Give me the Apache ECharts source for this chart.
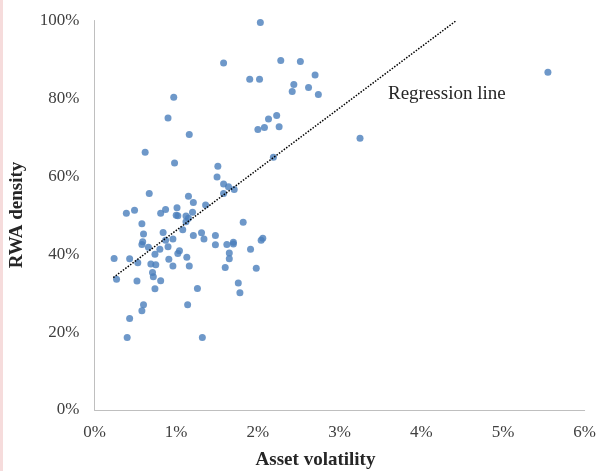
<!DOCTYPE html>
<html>
<head>
<meta charset="utf-8">
<script src="https://cdn.jsdelivr.net/npm/echarts@6/dist/echarts.min.js"></script>
<style>
html,body{margin:0;padding:0;background:#fff;}
#chart{width:599px;height:471px;}
</style>
</head>
<body>
<div id="chart"></div>
<script>
// Asset volatility (%) and RWA density (%) per bank
var assetVolatility = [
  2.03,1.58,2.28,2.52,1.90,2.02,2.70,2.44,2.42,2.62,2.74,2.23,2.13,2.00,2.08,2.26,3.25,2.19,5.55,
  0.97,0.90,1.16,0.62,
  0.98,1.51,1.50,1.58,1.64,1.71,1.58,0.67,1.15,1.21,1.36,1.01,0.87,0.81,1.20,0.39,0.49,1.00,1.02,
  1.12,1.15,1.12,0.58,1.82,1.08,0.84,0.60,1.31,1.21,1.48,1.34,0.96,0.87,0.59,0.58,2.06,2.04,1.70,
  1.70,1.62,1.48,0.90,0.66,0.80,1.04,1.02,0.74,1.65,1.91,1.65,0.24,0.43,0.53,0.91,1.13,0.69,0.75,
  0.96,1.16,1.60,1.98,0.71,0.72,0.81,0.27,0.52,
  0.74,1.26,1.76,1.78,0.60,0.58,1.14,0.43,0.40,1.32
];
var rwaDensity = [
  99.5,89.1,89.7,89.5,84.9,84.9,86.0,83.6,81.8,82.8,81.0,75.6,74.7,72.0,72.5,72.7,69.8,64.9,86.7,
  80.3,75.0,70.7,66.2,
  63.4,62.6,59.8,58.0,57.3,56.6,55.6,55.6,54.9,53.3,52.6,51.9,51.5,50.5,50.8,50.5,51.3,50.0,49.9,
  49.8,49.2,48.3,47.8,48.2,46.3,45.6,45.2,45.5,44.8,44.8,43.9,43.9,43.6,43.2,42.5,44.1,43.6,43.1,
  42.6,42.5,42.4,41.9,41.8,41.3,40.9,40.2,40.0,40.3,41.3,38.8,38.9,38.8,37.8,38.7,39.2,37.5,37.3,
  37.0,37.0,36.6,36.4,35.3,34.2,33.2,33.6,33.1,
  31.1,31.2,32.6,30.1,27.0,25.5,27.0,23.5,18.6,18.6
];
// regression line end points
var regressionX = [0.23, 4.43];
var regressionY = [34, 100];
var regressionLabel = 'Regression line';
var xTitle = 'Asset volatility';
var yTitle = 'RWA density';

var points = assetVolatility.map(function(v, i){ return [v, rwaDensity[i]]; });
var regLine = regressionX.map(function(v, i){ return [v, regressionY[i]]; });

var serif = '"Liberation Serif", "DejaVu Serif", serif';
var chart = echarts.init(document.getElementById('chart'), null, {renderer:'canvas'});
chart.setOption({
  animation: false,
  backgroundColor: '#ffffff',
  grid: {left: 94.5, right: 14, top: 20.5, bottom: 61, containLabel: false},
  xAxis: {
    type: 'value', min: 0, max: 6, interval: 1,
    axisLine: {show: true, lineStyle: {color: '#bfbfbf', width: 1}},
    axisTick: {show: false},
    splitLine: {show: false},
    axisLabel: {formatter: '{value}%', color: '#404040', fontFamily: serif, fontSize: 17, margin: 14}
  },
  yAxis: {
    type: 'value', min: 0, max: 100, interval: 20,
    axisLine: {show: true, lineStyle: {color: '#bfbfbf', width: 1}},
    axisTick: {show: false},
    splitLine: {show: false},
    axisLabel: {formatter: '{value}%', color: '#404040', fontFamily: serif, fontSize: 17, margin: 15}
  },
  series: [
    {
      type: 'scatter', data: points, symbol: 'circle', symbolSize: 7,
      itemStyle: {color: '#4a7ebb'}, z: 2
    },
    {
      type: 'line', data: regLine, symbol: 'none', silent: true,
      lineStyle: {color: '#000000', width: 1.5, type: [1.5, 1.5]}, z: 3
    }
  ],
  graphic: [
    {type: 'rect', left: 0, top: 0, shape: {x: 0, y: 0, width: 3, height: 471}, style: {fill: '#f6dcdc'}},
    {type: 'text', x: 388, y: 94, style: {text: regressionLabel, fill: '#262626', font: '19px ' + serif, textVerticalAlign: 'middle', textAlign: 'left'}},
    {type: 'text', x: 315.5, y: 460, style: {text: xTitle, fill: '#262626', font: 'bold 19px ' + serif, textAlign: 'center', textVerticalAlign: 'middle'}},
    {type: 'text', x: 17.5, y: 215, rotation: Math.PI/2, style: {text: yTitle, fill: '#262626', font: 'bold 19px ' + serif, textAlign: 'center', textVerticalAlign: 'middle'}}
  ]
});
</script>
</body>
</html>
